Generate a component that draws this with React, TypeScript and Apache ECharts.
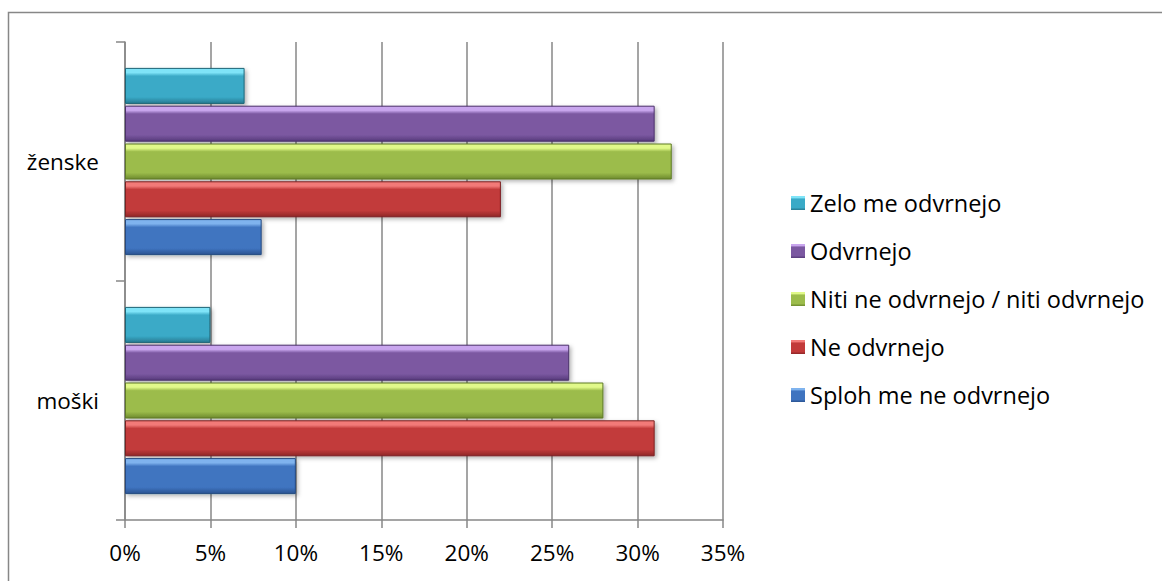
import React, { useEffect, useRef } from "react";
import * as echarts from "echarts";

const categories = ["moški", "ženske"];
const seriesNames = [
  "Zelo me odvrnejo",
  "Odvrnejo",
  "Niti ne odvrnejo / niti odvrnejo",
  "Ne odvrnejo",
  "Sploh me ne odvrnejo",
];
const zeloValues = [5, 7];
const odvrnejoValues = [26, 31];
const nitiValues = [28, 32];
const neValues = [31, 22];
const splohValues = [10, 8];
const legendOrder = [
  "Zelo me odvrnejo",
  "Odvrnejo",
  "Niti ne odvrnejo / niti odvrnejo",
  "Ne odvrnejo",
  "Sploh me ne odvrnejo",
];

const palettes = [
  { light: "#7fe4f8", main: "#3aaac7", dark: "#277a91", border: "#1f6577" },
  { light: "#c9a6ee", main: "#7b58a1", dark: "#573b7b", border: "#4b3169" },
  { light: "#e1f98a", main: "#9cbc4b", dark: "#6d8a2e", border: "#5e7a26" },
  { light: "#f27a78", main: "#c23a3a", dark: "#8f2627", border: "#7a2021" },
  { light: "#7fb3ee", main: "#3f74c0", dark: "#2a5391", border: "#254a80" },
];

const FONT = "'Open Sans', 'Noto Sans', sans-serif";

export default function App() {
  const ref = useRef<HTMLDivElement>(null);
  useEffect(() => {
    if (!ref.current) return;
    const chart = echarts.init(ref.current, null, { renderer: "svg" });
    const values = [zeloValues, odvrnejoValues, nitiValues, neValues, splohValues];
    const series = seriesNames.map((name, i) => {
      const p = palettes[i];
      return {
        name,
        type: "bar",
        data: values[i],
        barWidth: 36,
        barGap: "5%",
        itemStyle: {
          color: new echarts.graphic.LinearGradient(0, 0, 0, 1, [
            { offset: 0, color: p.light },
            { offset: 0.12, color: p.light },
            { offset: 0.22, color: p.main },
            { offset: 0.82, color: p.main },
            { offset: 1, color: p.dark },
          ]),
          borderColor: p.border,
          borderWidth: 1,
          shadowColor: "rgba(0,0,0,0.3)",
          shadowBlur: 4,
          shadowOffsetX: 2,
          shadowOffsetY: 2,
        },
      };
    });
    chart.setOption({
      animation: false,
      backgroundColor: "#ffffff",
      textStyle: { fontFamily: FONT },
      graphic: [
        {
          type: "rect",
          shape: { x: 8.5, y: 12.5, width: 1200, height: 700 },
          style: { fill: "none", stroke: "#878787", lineWidth: 1.5 },
          silent: true,
          z: -1,
        },
      ],
      grid: { left: 125, right: 439, top: 42, bottom: 61, containLabel: false },
      legend: {
        orient: "vertical",
        left: 786,
        top: 186,
        itemWidth: 14,
        itemHeight: 14,
        itemGap: 24,
        icon: "rect",
        data: legendOrder,
        textStyle: { fontFamily: FONT, fontSize: 23.5, color: "#000" },
        itemStyle: { borderWidth: 0, shadowBlur: 0, shadowOffsetX: 0, shadowOffsetY: 0 },
      },
      xAxis: {
        type: "value",
        min: 0,
        max: 35,
        interval: 5,
        axisLine: { show: true, lineStyle: { color: "#878787", width: 1.5 } },
        axisTick: { show: true, length: 8, lineStyle: { color: "#878787", width: 1.5 } },
        splitLine: { show: true, lineStyle: { color: "#878787", width: 1.5 } },
        axisLabel: {
          formatter: "{value}%",
          fontFamily: FONT,
          fontSize: 22.5,
          color: "#000",
          margin: 21,
        },
      },
      yAxis: {
        type: "category",
        data: categories,
        axisLine: { show: true, lineStyle: { color: "#878787", width: 1.5 } },
        axisTick: { show: true, length: 9, lineStyle: { color: "#878787", width: 1.5 } },
        axisLabel: { fontFamily: FONT, fontSize: 22.5, color: "#000", margin: 26 },
      },
      series,
    });
    return () => chart.dispose();
  }, []);
  return (
    <div
      ref={ref}
      style={{ position: "absolute", left: 0, top: 0, width: 1162, height: 581 }}
    />
  );
}
